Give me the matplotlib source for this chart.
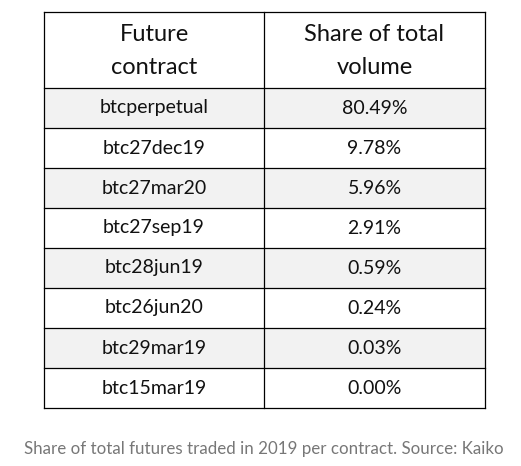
import matplotlib
matplotlib.use("Agg")
import matplotlib.pyplot as plt
from matplotlib.patches import Rectangle

contracts = ["btcperpetual", "btc27dec19", "btc27mar20", "btc27sep19",
             "btc28jun19", "btc26jun20", "btc29mar19", "btc15mar19"]
shares = ["80.49%", "9.78%", "5.96%", "2.91%", "0.59%", "0.24%", "0.03%", "0.00%"]
headers = ["Future\ncontract", "Share of total\nvolume"]
caption = "Share of total futures traded in 2019 per contract. Source: Kaiko"

W, H = 521, 466
fig = plt.figure(figsize=(W/100, H/100), dpi=100)
ax = fig.add_axes([0, 0, 1, 1])
ax.set_xlim(0, W); ax.set_ylim(H, 0); ax.axis("off")
font = "Lato"

x0, xm, x1 = 44, 264, 485
ytop, yhead = 12, 88
rh = 40
for i, (c, s) in enumerate(zip(contracts, shares)):
    y = yhead + i*rh
    fc = "#f2f2f2" if i % 2 == 0 else "white"
    ax.add_patch(Rectangle((x0, y), x1-x0, rh, facecolor=fc, edgecolor="none"))
    ax.text((x0+xm)/2, y+rh/2, c, ha="center", va="center", fontsize=14, family=font, color="#111")
    ax.text((xm+x1)/2, y+rh/2, s, ha="center", va="center", fontsize=14, family=font, color="#111")
ybot = yhead + len(contracts)*rh
for y in [ytop, yhead] + [yhead + i*rh for i in range(1, len(contracts)+1)]:
    ax.plot([x0, x1], [y, y], color="black", lw=0.9)
for x in [x0, xm, x1]:
    ax.plot([x, x], [ytop, ybot], color="black", lw=0.9)
ax.text((x0+xm)/2, (ytop+yhead)/2 + 1, headers[0], ha="center", va="center", fontsize=17, family=font, color="#111", linespacing=1.65)
ax.text((xm+x1)/2, (ytop+yhead)/2 + 1, headers[1], ha="center", va="center", fontsize=17, family=font, color="#111", linespacing=1.65)
ax.text(264, 449, caption, ha="center", va="center", fontsize=12.2, family=font, color="#777")
fig.savefig("out.png", dpi=100)
